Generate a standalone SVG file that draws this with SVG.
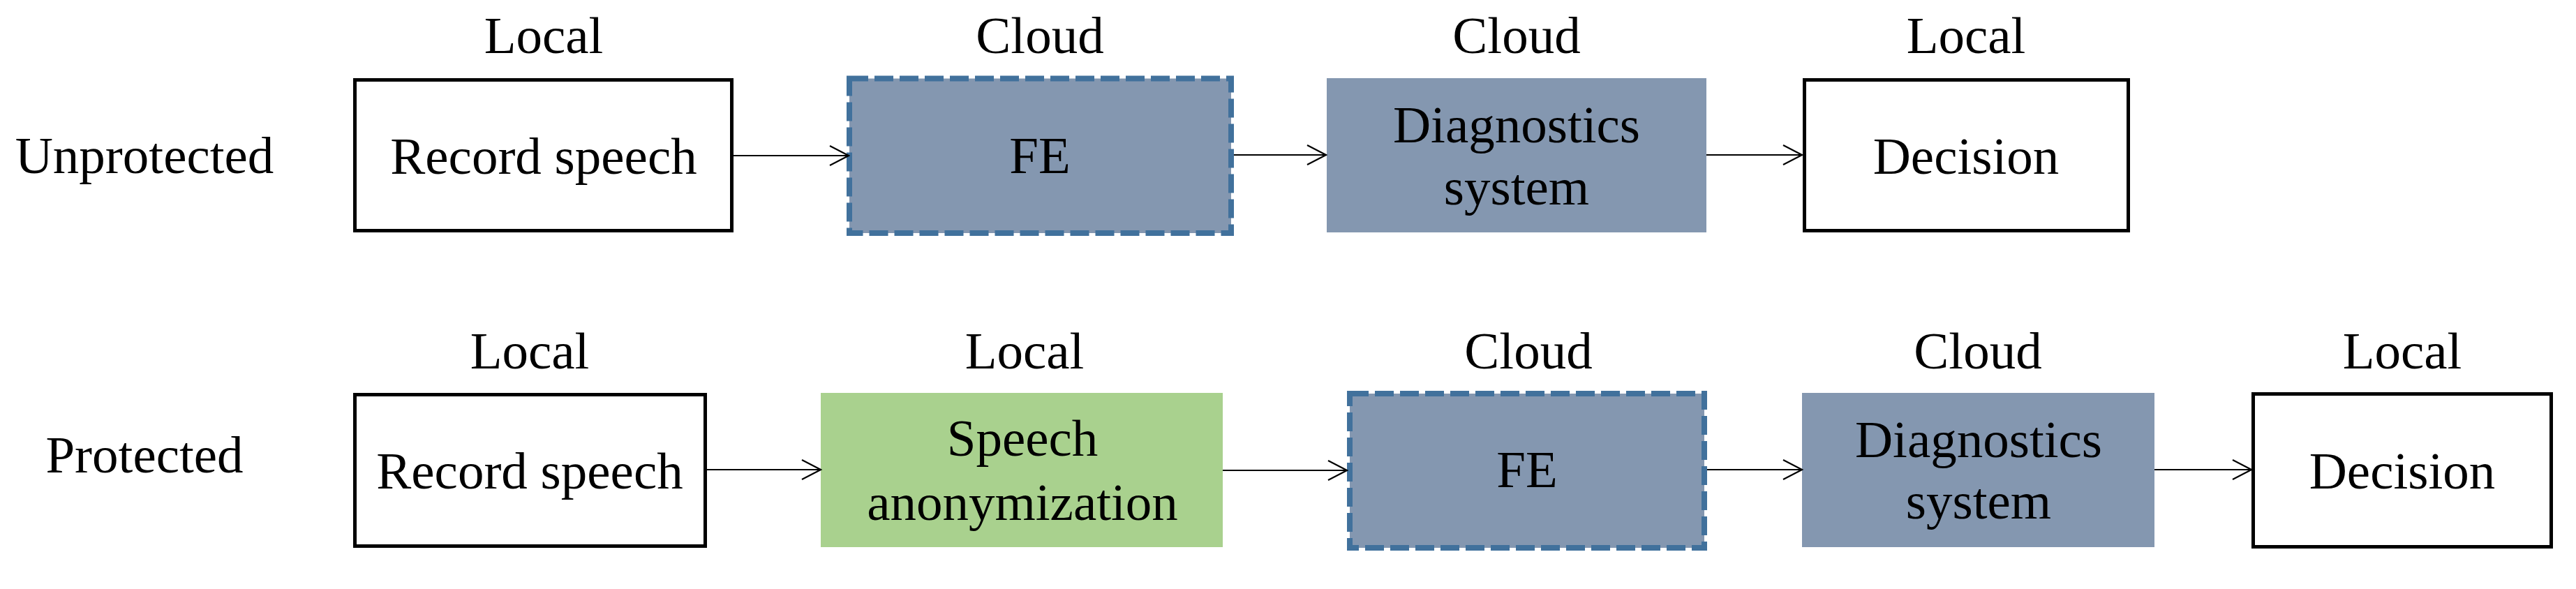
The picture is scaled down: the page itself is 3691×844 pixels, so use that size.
<svg xmlns="http://www.w3.org/2000/svg" width="3691" height="844" viewBox="0 0 3691 844">
<style>
  text { font-family: "Liberation Serif", "Times New Roman", serif; font-size: 75px; fill: #000; text-anchor: middle; }
  .plain { fill: #ffffff; stroke: #000; stroke-width: 5; }
  .cloud { fill: #8497B0; stroke: #41719C; stroke-width: 8; stroke-dasharray: 27 9; }
  .diag { fill: #8497B0; stroke: none; }
  .anon { fill: #A9D18E; stroke: none; }
  .conn { stroke: #000; stroke-width: 2.2; fill: none; marker-end: url(#arrow); }
</style>
<defs>
  <marker id="arrow" viewBox="0 0 30 30" refX="28" refY="15" markerWidth="30" markerHeight="30" markerUnits="userSpaceOnUse" orient="auto">
    <path d="M1,1 L28,15 L1,29" fill="none" stroke="#000" stroke-width="2.2"/>
  </marker>
</defs>
<rect width="3691" height="844" fill="#ffffff"/>

<!-- Row labels -->
<g id="row-unprotected"><text x="207" y="248">Unprotected</text></g>
<g id="row-protected"><text x="207" y="677">Protected</text></g>

<!-- Top row nodes -->
<g id="u-record">
  <text x="779" y="76">Local</text>
  <rect class="plain" x="508.5" y="114.5" width="540" height="216"/>
  <text x="779" y="249">Record speech</text>
</g>
<g id="u-fe">
  <text x="1490" y="76">Cloud</text>
  <rect class="cloud" x="1217" y="112.5" width="547" height="221.5"/>
  <text x="1490" y="248">FE</text>
</g>
<g id="u-diag">
  <text x="2173" y="76">Cloud</text>
  <rect class="diag" x="1901" y="112" width="544" height="221"/>
  <text x="2173" y="204">Diagnostics</text>
  <text x="2173" y="293">system</text>
</g>
<g id="u-decision">
  <text x="2817" y="76">Local</text>
  <rect class="plain" x="2585.5" y="114.5" width="464" height="216"/>
  <text x="2817" y="249">Decision</text>
</g>

<!-- Bottom row nodes -->
<g id="p-record">
  <text x="759" y="528">Local</text>
  <rect class="plain" x="508.5" y="565.5" width="502" height="217"/>
  <text x="759" y="700">Record speech</text>
</g>
<g id="p-anon">
  <text x="1468" y="528">Local</text>
  <rect class="anon" x="1176" y="563" width="576" height="221"/>
  <text x="1465" y="653">Speech</text>
  <text x="1465" y="745">anonymization</text>
</g>
<g id="p-fe">
  <text x="2190" y="528">Cloud</text>
  <rect class="cloud" x="1934" y="564" width="508" height="221"/>
  <text x="2188" y="698">FE</text>
</g>
<g id="p-diag">
  <text x="2834" y="528">Cloud</text>
  <rect class="diag" x="2582" y="563" width="505" height="221"/>
  <text x="2835" y="655">Diagnostics</text>
  <text x="2835" y="743">system</text>
</g>
<g id="p-decision">
  <text x="3442" y="528">Local</text>
  <rect class="plain" x="3228.5" y="564.5" width="427" height="219"/>
  <text x="3442" y="700">Decision</text>
</g>

<!-- Connectors -->
<g id="connectors">
  <line class="conn" x1="1051" y1="223" x2="1216" y2="223"/>
  <line class="conn" x1="1768" y1="222" x2="1900" y2="222"/>
  <line class="conn" x1="2445" y1="222" x2="2582" y2="222"/>
  <line class="conn" x1="1013" y1="673" x2="1176" y2="673"/>
  <line class="conn" x1="1752" y1="674" x2="1930" y2="674"/>
  <line class="conn" x1="2446" y1="673" x2="2582" y2="673"/>
  <line class="conn" x1="3087" y1="673" x2="3226" y2="673"/>
</g>
</svg>
